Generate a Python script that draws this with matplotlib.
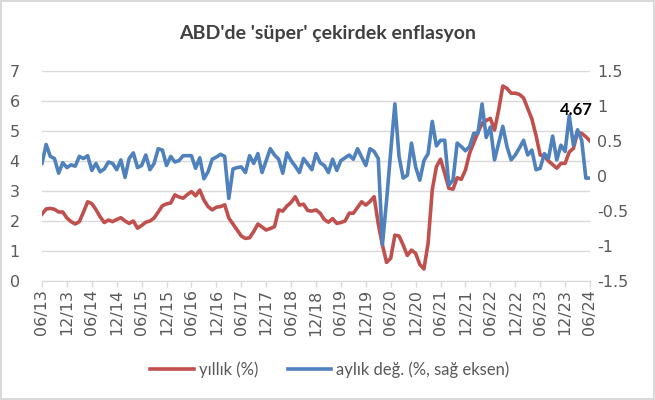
import numpy as np
import matplotlib
matplotlib.use("Agg")
import matplotlib.pyplot as plt

# yıllık süper çekirdek enflasyon (%), aylık, 06/13 - 06/24
yillik = [2.23, 2.40, 2.42, 2.39, 2.30, 2.30, 2.10, 1.98, 1.90, 1.98,
          2.30, 2.64, 2.58, 2.38, 2.14, 1.95, 2.03, 1.98, 2.05, 2.11,
          2.00, 1.92, 2.00, 1.76, 1.85, 1.96, 2.00, 2.10, 2.30, 2.51,
          2.57, 2.60, 2.87, 2.80, 2.76, 2.88, 2.98, 2.84, 3.03, 2.70,
          2.48, 2.37, 2.46, 2.48, 2.54, 2.10, 1.90, 1.70, 1.50, 1.42,
          1.44, 1.65, 1.90, 1.80, 1.70, 1.75, 1.81, 2.37, 2.33, 2.50,
          2.62, 2.81, 2.53, 2.56, 2.35, 2.33, 2.37, 2.26, 2.05, 1.96,
          2.08, 1.92, 1.95, 2.00, 2.26, 2.26, 2.45, 2.64, 2.53, 2.65,
          2.81, 1.90, 1.20, 0.62, 0.76, 1.53, 1.50, 1.20, 0.85, 1.03,
          0.92, 0.55, 0.40, 1.26, 3.03, 3.81, 4.06, 3.59, 3.09, 3.06,
          3.44, 3.39, 3.70, 4.26, 4.61, 4.95, 5.25, 5.35, 5.42, 5.03,
          5.70, 6.50, 6.42, 6.26, 6.26, 6.22, 6.10, 5.75, 5.40, 4.85,
          4.20, 4.16, 4.00, 3.88, 3.76, 3.92, 3.92, 4.30, 4.42, 4.95,
          4.92, 4.81, 4.67]

# aylık değişim (%), sağ eksen
aylik = [0.18, 0.45, 0.28, 0.25, 0.04, 0.19, 0.12, 0.16, 0.14, 0.28,
         0.25, 0.29, 0.08, 0.18, 0.06, 0.10, 0.20, 0.18, 0.09, 0.23,
         -0.02, 0.25, 0.33, 0.12, 0.15, 0.30, 0.09, 0.18, 0.39, 0.37,
         0.15, 0.28, 0.20, 0.22, 0.29, 0.29, 0.29, 0.11, 0.26, -0.04,
         0.06, 0.24, 0.27, 0.31, 0.28, -0.32, 0.10, 0.12, 0.13, 0.05,
         0.29, 0.18, 0.32, 0.05, 0.22, 0.39, 0.30, 0.24, 0.04, 0.33,
         0.22, 0.14, 0.05, 0.25, 0.17, 0.09, 0.32, 0.19, 0.15, 0.05,
         0.24, 0.08, 0.22, 0.26, 0.30, 0.24, 0.39, 0.27, 0.15, 0.39,
         0.35, 0.25, -0.98, -0.35, 0.35, 1.03, 0.28, -0.03, 0.01, 0.47,
         0.13, -0.06, 0.22, 0.32, 0.78, 0.43, 0.51, 0.51, -0.13, -0.06,
         0.47, 0.42, 0.36, 0.42, 0.61, 0.61, 1.03, 0.55, 0.70, 0.23,
         0.47, 0.71, 0.42, 0.23, 0.30, 0.40, 0.51, 0.30, 0.37, 0.09,
         0.11, 0.32, 0.25, 0.57, 0.23, 0.44, 0.35, 0.86, 0.44, 0.66,
         0.51, -0.03, -0.03]

tarih_etiketleri = ["06/13", "12/13", "06/14", "12/14", "06/15", "12/15",
                    "06/16", "12/16", "06/17", "12/17", "06/18", "12/18",
                    "06/19", "12/19", "06/20", "12/20", "06/21", "12/21",
                    "06/22", "12/22", "06/23", "12/23", "06/24"]

sol_ticks = [0, 1, 2, 3, 4, 5, 6, 7]
sag_ticks = [-1.5, -1, -0.5, 0, 0.5, 1, 1.5]
sag_etiketler = ["-1.5", "-1", "-0.5", "0", "0.5", "1", "1.5"]

kirmizi = "#C0504D"
mavi = "#4F81BD"
gri = "#595959"
grid_renk = "#D9D9D9"

x = np.arange(len(yillik))

fig = plt.figure(figsize=(6.55, 4.0), dpi=100)
fig.patch.set_edgecolor(grid_renk)
fig.patch.set_linewidth(1.5)
ax = fig.add_axes([42 / 655, 1 - 281 / 400, (590 - 42) / 655, (281 - 71) / 400])
ax2 = ax.twinx()

ax.plot(x, yillik, color=kirmizi, lw=2.6, solid_joinstyle="round", label="yıllık (%)")
ax2.plot(x, aylik, color=mavi, lw=2.6, solid_joinstyle="round", label="aylık değ. (%, sağ eksen)")

ax.set_xlim(0, len(yillik) - 1)
ax.set_ylim(0, 7)
ax2.set_ylim(-1.5, 1.5)

ax.set_yticks(sol_ticks)
ax2.set_yticks(sag_ticks)
ax2.set_yticklabels(sag_etiketler)
ax.set_xticks(np.arange(0, len(yillik), 6))
ax.set_xticklabels(tarih_etiketleri, rotation=90)

ax.grid(axis="y", color=grid_renk, lw=1)
ax.set_axisbelow(True)
for a in (ax, ax2):
    for s in ("top", "left", "right"):
        a.spines[s].set_visible(False)
    a.spines["bottom"].set_color(grid_renk)
ax2.spines["bottom"].set_visible(False)

ax.tick_params(axis="x", colors=grid_renk, length=4, width=1, pad=2,
               labelcolor=gri, labelsize=11.5)
ax.tick_params(axis="y", length=0, pad=16, labelcolor=gri, labelsize=11.5)
ax2.tick_params(axis="y", length=0, pad=5, labelcolor=gri, labelsize=11.5)
for t in ax.get_yticklabels():
    t.set_ha("right")

# son değer etiketi (sağ eksen etiketine binmesin diye biraz sola)
ax2.annotate("4.67", xy=(x[-1], yillik[-1]), xycoords=ax.transData,
             xytext=(-10, 22), textcoords="offset points", ha="center", va="center",
             fontsize=12, fontweight="bold", color="black", family="Lato")

fig.text(0.5, 1 - 33 / 400, "ABD'de 'süper' çekirdek enflasyon", ha="center", va="center",
         fontsize=14, fontweight="bold", color="#404040", family="Lato")

h1, l1 = ax.get_legend_handles_labels()
h2, l2 = ax2.get_legend_handles_labels()
fig.legend(h1 + h2, l1 + l2, loc="center", bbox_to_anchor=(330 / 655, 1 - 370 / 400),
           ncol=2, frameon=False, handlelength=2.6, handletextpad=0.3, columnspacing=1.8,
           prop={"family": "Lato", "size": 12}, labelcolor=gri)

fig.savefig("out.png", dpi=100)
